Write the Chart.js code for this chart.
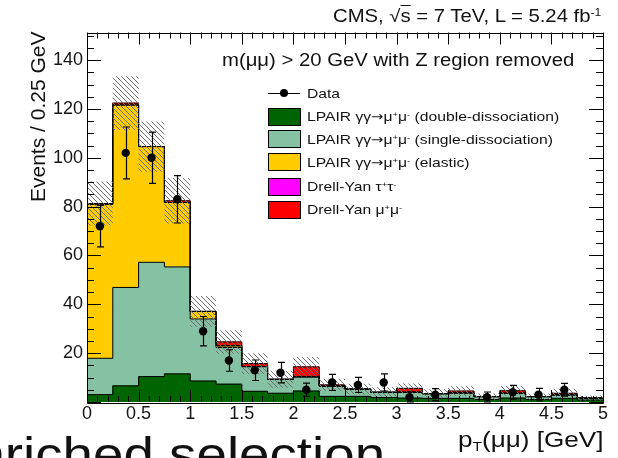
<!DOCTYPE html>
<html>
<head>
<meta charset="utf-8">
<script src="https://cdn.jsdelivr.net/npm/chart.js@4"></script>
<style>
  body { margin: 0; background: #fff; overflow: hidden; }
  #wrap { position: relative; width: 618px; height: 458px; font-family: "Liberation Sans", Arial, sans-serif; color: #111; }
  #plot { position: absolute; left: 0; top: 0; }
  .txt { position: absolute; white-space: nowrap; line-height: 1; }
  .wide-l { transform: scaleX(1.16); transform-origin: left top; }
  .wide-r { transform: scaleX(1.16); transform-origin: right top; }
  .txt sup { font-size: 0.6em; vertical-align: 0.55em; line-height: 0; }
  .txt sub { font-size: 0.6em; vertical-align: -0.3em; line-height: 0; }
  .arr { font-family: "DejaVu Sans", sans-serif; font-size: 0.95em; }
  .box { position: absolute; width: 31px; height: 16px; border: 1px solid #000; }
  .leg { position: absolute; font-size: 13.5px; }
</style>
</head>
<body>
<div id="wrap">
  <canvas id="plot" width="618" height="458"></canvas>
  <div class="txt wide-r" style="right:17px; top:8px; font-size:17.5px;">CMS, &radic;<span style="text-decoration:overline">s</span> = 7 TeV, L = 5.24 fb<sup>-1</sup></div>
  <div class="txt wide-l" style="left:222px; top:52px; font-size:17.5px;">m(&mu;&mu;) &gt; 20 GeV with Z region removed</div>
  <div class="txt" style="left:27px; top:202px; font-size:21px; transform:rotate(-90deg); transform-origin:left top;">Events / 0.25 GeV</div>
  <div class="txt wide-r" style="right:15px; top:429px; font-size:22.5px;">p<sub>T</sub>(&mu;&mu;) [GeV]</div>
  <div class="txt" style="left:-56px; top:431px; font-size:48px; transform:scaleX(1.14); transform-origin:left top;">enriched selection</div>
  <div id="legend"></div>
</div>
<script>
// pT(mumu) bins, 0.25 GeV wide
const binEdges = [0, 0.25, 0.5, 0.75, 1, 1.25, 1.5, 1.75, 2, 2.25, 2.5, 2.75, 3, 3.25, 3.5, 3.75, 4, 4.25, 4.5, 4.75, 5];

// MC stack components, events per bin
const doubleDiss = [3.0, 6.6, 10.4, 11.5, 8.6, 7.3, 4.4, 3.6, 4.5, 2.3, 2.3, 1.8, 1.6, 1.5, 1.5, 1.0, 1.6, 1.0, 1.5, 0.8];
const singleDiss = [14.9, 40.3, 46.8, 43.8, 25.4, 15.0, 10.1, 5.7, 5.8, 4.2, 3.0, 2.2, 2.4, 1.9, 2.2, 1.2, 2.0, 1.2, 1.4, 0.8];
const elastic    = [63.1, 74.7, 47.4, 26.4, 3.1, 0.7, 0, 0, 0, 0, 0, 0, 0, 0, 0, 0, 0, 0, 0, 0];
const dyTauTau   = [0, 0, 0, 0, 0, 0, 0, 0, 0, 0, 0, 0, 0, 0, 0, 0, 0, 0, 0, 0];
const dyMuMu     = [0.3, 0.8, 0, 0.7, 0, 1.6, 1.2, 0, 4.1, 0.5, 0, 0, 1.6, 0, 0.8, 0, 1.0, 0, 0.7, 0];

// half width of the hatched MC uncertainty band
const mcUnc = [9, 11, 10.3, 9.3, 6.3, 4.8, 4.3, 3.5, 4, 2.5, 2.2, 2, 2, 1.8, 2, 1.3, 2, 1.3, 1.8, 1];

// observed events and their errors
const dataCounts = [72, 102, 100, 83, 29, 17, 13, 12, 5, 8, 7, 8, 2, 3, 0, 2, 4, 3, 5, 0];
const dataErr    = [8.5, 10.6, 10.5, 9.7, 6, 4.4, 4.2, 4.2, 2.7, 3.3, 3.1, 3.5, 2.1, 2.5, 0, 2.1, 2.8, 2.6, 2.6, 0];

const xTickLabels = ['0', '0.5', '1', '1.5', '2', '2.5', '3', '3.5', '4', '4.5', '5'];
const yTickLabels = ['20', '40', '60', '80', '100', '120', '140'];
const yMax = 151.3;

const arrow = '<span class="arr">&rarr;</span>';
const seriesNames = [
  'LPAIR &gamma;&gamma;' + arrow + '&mu;<sup>+</sup>&mu;<sup>-</sup> (double-dissociation)',
  'LPAIR &gamma;&gamma;' + arrow + '&mu;<sup>+</sup>&mu;<sup>-</sup> (single-dissociation)',
  'LPAIR &gamma;&gamma;' + arrow + '&mu;<sup>+</sup>&mu;<sup>-</sup> (elastic)',
  'Drell-Yan &tau;<sup>+</sup>&tau;<sup>-</sup>',
  'Drell-Yan &mu;<sup>+</sup>&mu;<sup>-</sup>'
];
const seriesColors = ['#006400', '#85c2a4', '#ffcc00', '#ff00ff', '#ff0000'];

const centers = binEdges.slice(0, -1).map((e, i) => (e + binEdges[i + 1]) / 2);
const layers = [doubleDiss, singleDiss, elastic, dyTauTau, dyMuMu];

// cumulative stack
let base = centers.map(() => 0);
const stackTops = layers.map(layer => {
  const lo = base;
  const hi = layer.map((v, i) => lo[i] + v);
  base = hi;
  return { lo, hi };
});
const total = base;

function hatchPattern() {
  const c = document.createElement('canvas');
  c.width = 5; c.height = 5;
  const g = c.getContext('2d');
  g.strokeStyle = '#707070';
  g.lineWidth = 1;
  g.beginPath();
  g.moveTo(-1, -1); g.lineTo(6, 6);
  g.moveTo(-1, 4); g.lineTo(1, 6);
  g.moveTo(4, -1); g.lineTo(6, 1);
  g.stroke();
  return g.createPattern(c, 'repeat');
}

const datasets = [];

// filled stack components
stackTops.forEach((s, k) => {
  datasets.push({
    type: 'bar',
    data: centers.map((x, i) => ({ x, y: layers[k][i] > 0 ? [s.lo[i], s.hi[i]] : null })),
    backgroundColor: seriesColors[k],
    borderWidth: 0,
    grouped: false,
    barPercentage: 1,
    categoryPercentage: 1,
    order: 50
  });
});

// black step outline on top of each component
stackTops.forEach(s => {
  datasets.push({
    type: 'line',
    data: binEdges.map((x, i) => ({ x, y: s.hi[Math.min(i, s.hi.length - 1)] })),
    stepped: 'before',
    borderColor: '#000',
    borderWidth: 1,
    pointRadius: 0,
    fill: false,
    order: 40
  });
});

// MC uncertainty band
datasets.push({
  type: 'bar',
  data: centers.map((x, i) => ({ x, y: [total[i] - mcUnc[i], total[i] + mcUnc[i]] })),
  backgroundColor: hatchPattern(),
  borderWidth: 0,
  grouped: false,
  barPercentage: 1,
  categoryPercentage: 1,
  inflateAmount: 0,
  order: 30
});

// data points
const dataPoints = [];
centers.forEach((x, i) => {
  if (dataCounts[i] > 0) dataPoints.push({ x, y: dataCounts[i], err: dataErr[i] });
});
datasets.push({
  type: 'scatter',
  data: dataPoints,
  pointRadius: 4.2,
  pointBackgroundColor: '#000',
  pointBorderColor: '#000',
  pointBorderWidth: 0,
  order: 10
});

const errorBars = {
  id: 'errorBars',
  afterDatasetsDraw(chart) {
    const { ctx, scales: { x, y } } = chart;
    ctx.save();
    ctx.strokeStyle = '#000';
    ctx.lineWidth = 1.2;
    ctx.beginPath();
    dataPoints.forEach(p => {
      const px = Math.round(x.getPixelForValue(p.x)) + 0.5;
      const top = y.getPixelForValue(p.y + p.err);
      const bot = y.getPixelForValue(Math.max(p.y - p.err, 0));
      ctx.moveTo(px, top); ctx.lineTo(px, bot);
      ctx.moveTo(px - 3.5, top); ctx.lineTo(px + 3.5, top);
      ctx.moveTo(px - 3.5, bot); ctx.lineTo(px + 3.5, bot);
    });
    ctx.stroke();
    ctx.restore();
  }
};

// frame with ROOT-style ticks on all four sides
const frameTicks = {
  id: 'frameTicks',
  afterDraw(chart) {
    const { ctx, chartArea: a, scales: { x, y } } = chart;
    ctx.save();
    ctx.strokeStyle = '#000';
    ctx.lineWidth = 1;
    ctx.beginPath();
    for (let k = 0; k <= 50; k++) {
      const px = Math.round(x.getPixelForValue(k / 10)) + 0.5;
      const len = k % 5 === 0 ? 12 : 6;
      ctx.moveTo(px, a.bottom); ctx.lineTo(px, a.bottom - len);
      ctx.moveTo(px, a.top); ctx.lineTo(px, a.top + len);
    }
    for (let v = 0; v <= yMax; v += 5) {
      const py = Math.round(y.getPixelForValue(v)) + 0.5;
      const len = v % 20 === 0 ? 14 : 7;
      ctx.moveTo(a.left, py); ctx.lineTo(a.left + len, py);
      ctx.moveTo(a.right, py); ctx.lineTo(a.right - len, py);
    }
    ctx.rect(Math.round(a.left) + 0.5, Math.round(a.top) + 0.5,
             Math.round(a.right - a.left), Math.round(a.bottom - a.top));
    ctx.stroke();
    ctx.restore();
  }
};

Chart.defaults.font.family = '"Liberation Sans", Arial, sans-serif';
Chart.defaults.color = '#151515';

new Chart(document.getElementById('plot'), {
  data: { datasets },
  options: {
    responsive: false,
    animation: false,
    layout: { padding: { top: 32.5, right: 15, left: 0, bottom: 0 } },
    plugins: { legend: { display: false }, tooltip: { enabled: false } },
    scales: {
      x: {
        type: 'linear',
        min: 0,
        max: 5,
        offset: false,
        grid: { display: false, drawTicks: false, offset: false },
        border: { display: false },
        afterBuildTicks: s => { s.ticks = xTickLabels.map(t => ({ value: Number(t) })); },
        afterFit: s => { s.height = 56; },
        ticks: {
          font: { size: 18 }, padding: 1, autoSkip: false, maxRotation: 0,
          callback: (v, i) => xTickLabels[i]
        }
      },
      y: {
        type: 'linear',
        min: 0,
        max: yMax,
        grid: { display: false, drawTicks: false },
        border: { display: false },
        afterBuildTicks: s => { s.ticks = yTickLabels.map(t => ({ value: Number(t) })); },
        afterFit: s => { s.width = 87; },
        ticks: { font: { size: 18 }, padding: 4, callback: (v, i) => yTickLabels[i] }
      }
    }
  },
  plugins: [errorBars, frameTicks]
});

// legend
const legend = document.getElementById('legend');
const rowY = [93.3, 116.7, 139.3, 162.3, 186.7, 210];
let html = '<div style="position:absolute;left:268px;top:' + (rowY[0] - 0.5) + 'px;width:32px;height:1px;background:#000"></div>' +
  '<div style="position:absolute;left:280px;top:' + (rowY[0] - 4) + 'px;width:8px;height:8px;border-radius:50%;background:#000"></div>' +
  '<div class="txt leg wide-l" style="left:307px;top:' + (rowY[0] - 6.6) + 'px">Data</div>';
seriesNames.forEach((name, k) => {
  const cy = rowY[k + 1];
  html += '<div class="box" style="left:268px;top:' + (cy - 9) + 'px;background:' + seriesColors[k] + '"></div>' +
    '<div class="txt leg wide-l" style="left:307px;top:' + (cy - 6.6) + 'px">' + name + '</div>';
});
legend.innerHTML = html;
</script>
</body>
</html>
